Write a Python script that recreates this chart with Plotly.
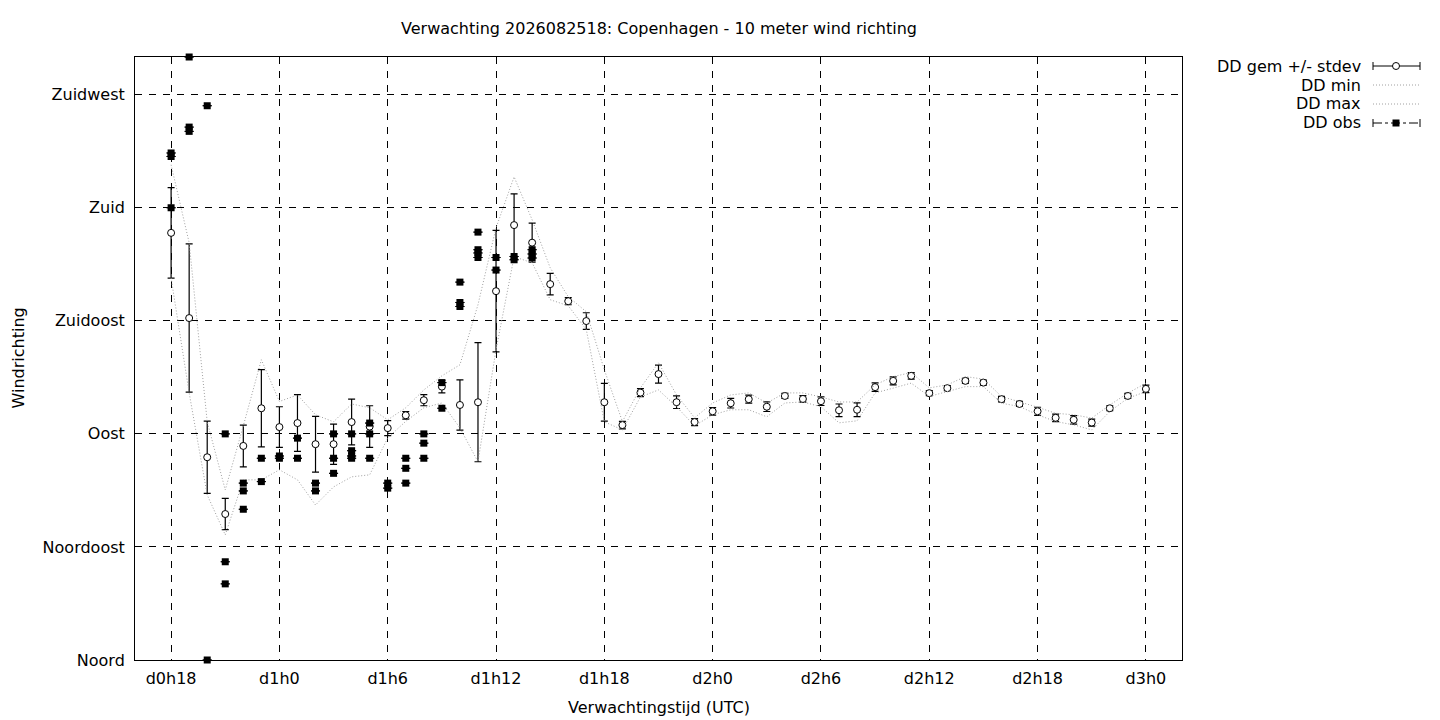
import plotly.graph_objects as go

# forecast hours (hours after d0h0)
hours = list(range(18, 73))

dd_mean = [170.0, 136.1, 80.7, 58.1, 85.2, 100.2, 92.7, 94.3, 85.9, 85.9,
           94.7, 92.9, 92.3, 97.4, 103.4, 108.8, 101.5, 102.6, 146.8, 173.1,
           166.1, 149.6, 142.8, 134.9, 102.6, 93.5, 106.4, 113.8, 102.6, 94.7,
           99.0, 102.2, 103.8, 100.8, 105.1, 103.9, 103.0, 99.4, 99.6, 108.6,
           111.1, 113.1, 106.2, 108.2, 111.1, 110.4, 103.8, 101.9, 99.0, 96.4,
           95.6, 94.5, 100.2, 105.1, 107.9]

dd_sd = [18.0, 29.5, 14.4, 6.2, 8.3, 15.4, 8.1, 11.3, 11.1, 8.0,
         9.1, 8.3, 3.0, 1.5, 2.2, 2.5, 10.0, 23.7, 24.2, 12.4,
         7.8, 4.3, 1.4, 3.3, 7.5, 1.5, 1.6, 3.6, 2.5, 1.4,
         1.5, 1.9, 1.6, 1.9, 1.0, 1.3, 1.7, 2.5, 2.7, 1.7,
         1.6, 1.3, 1.0, 1.0, 1.0, 1.0, 1.1, 1.0, 1.6, 1.5,
         1.7, 1.4, 1.0, 1.0, 1.5]

dd_min = [152.1, 106.3, 65.7, 49.8, 71.7, 71.7, 75.7, 71.7, 61.7, 68.9,
          72.9, 73.7, 88.4, 95.0, 100.4, 102.3, 92.4, 78.9, 123.5, 160.5,
          158.1, 143.4, 141.0, 131.5, 94.8, 91.6, 104.7, 107.5, 100.8, 93.2,
          97.6, 99.6, 99.6, 96.8, 102.3, 102.7, 100.8, 94.4, 95.2, 106.3,
          108.2, 110.2, 104.9, 106.9, 108.8, 108.8, 102.2, 100.9, 97.6, 94.9,
          93.6, 91.6, 98.9, 104.2, 106.8]

dd_max = [197.1, 166.1, 94.8, 67.7, 93.2, 119.5, 102.9, 105.5, 97.6, 94.8,
          101.9, 100.4, 95.6, 100.4, 107.5, 113.1, 117.5, 141.4, 172.0, 192.3,
          175.2, 156.1, 144.6, 138.6, 115.5, 94.9, 108.3, 118.3, 105.5, 96.4,
          102.3, 105.5, 106.3, 102.3, 106.3, 106.3, 104.7, 102.7, 102.7, 109.5,
          112.8, 114.4, 108.3, 109.5, 112.8, 111.8, 104.9, 102.9, 100.6, 98.2,
          97.6, 96.3, 101.5, 106.2, 110.2]

# observations
obs_hours = [18, 18, 18, 19, 19, 19, 20, 20, 21, 21, 21, 22, 22, 22, 23, 23,
             24, 24, 25, 25, 26, 26, 27, 27, 27, 28, 28, 28, 28, 29, 29, 29,
             30, 30, 31, 31, 31, 32, 32, 32, 33, 33, 34, 34, 34, 35, 35, 35, 35,
             36, 36, 37, 37, 38, 38, 38]
obs_dd = [201.8, 200.4, 180.0, 240.0, 212.1, 210.4, 220.6, 0.0, 90.0, 39.1, 30.3,
          70.4, 67.3, 60.0, 80.3, 71.0, 81.2, 80.3, 88.3, 80.3, 70.4, 67.3,
          90.0, 80.3, 74.3, 90.0, 83.3, 81.2, 80.3, 94.3, 90.0, 80.3, 70.4, 68.4,
          80.3, 76.3, 70.4, 90.0, 86.3, 80.3, 110.4, 100.2, 150.4, 142.3, 140.7,
          170.3, 163.3, 162.0, 160.2, 160.2, 155.2, 160.6, 159.3, 163.3, 161.6, 160.0]

tick_hours = [18, 24, 30, 36, 42, 48, 54, 60, 66, 72]
tick_labels = ["d0h18", "d1h0", "d1h6", "d1h12", "d1h18",
               "d2h0", "d2h6", "d2h12", "d2h18", "d3h0"]
dir_values = [0, 45, 90, 135, 180, 225]
dir_labels = ["Noord", "Noordoost", "Oost", "Zuidoost", "Zuid", "Zuidwest"]

FONT = "DejaVu Sans"
MINMAX_COLOR = "#a0a0a0"
# page offset (browser body margin) and plot area in screen pixels
OFF = 8
L, R, T, B = 135, 1182, 57, 660
FIG_W, FIG_H = 1440 - OFF, 720 - OFF


def px(x):
    return (x - L) / (R - L)


def py(y):
    return (B - y) / (B - T)


fig = go.Figure()
fig.add_trace(go.Scatter(
    x=hours, y=dd_mean, mode="markers", name="DD gem +/- stdev",
    marker=dict(symbol="circle", size=7, color="white",
                line=dict(color="black", width=1)),
    error_y=dict(type="data", array=dd_sd, color="black", thickness=1.2, width=3.5),
    showlegend=False,
))
fig.add_trace(go.Scatter(
    x=hours, y=dd_min, mode="lines", name="DD min",
    line=dict(color=MINMAX_COLOR, width=1, dash="1px,2px"), showlegend=False,
))
fig.add_trace(go.Scatter(
    x=hours, y=dd_max, mode="lines", name="DD max",
    line=dict(color=MINMAX_COLOR, width=1, dash="1px,2px"), showlegend=False,
))
fig.add_trace(go.Scatter(
    x=obs_hours, y=obs_dd, mode="markers", name="DD obs",
    marker=dict(symbol="square", size=7, color="black"),
    error_y=dict(type="data", array=[0] * len(obs_dd), color="black",
                 thickness=1, width=4.5),
    cliponaxis=False, showlegend=False,
))

axis_common = dict(
    showgrid=True, gridcolor="black", gridwidth=1, griddash="7px,7px",
    showline=True, mirror=True, linecolor="black", linewidth=1,
    zeroline=False, ticks="", tickfont=dict(family=FONT, size=16, color="black"),
)
fig.update_xaxes(range=[16, 74], tickvals=tick_hours, ticktext=tick_labels,
                 ticklabelstandoff=4, **axis_common)
fig.update_yaxes(range=[0, 240], tickvals=dir_values, ticktext=dir_labels,
                 ticklabelstandoff=6, **axis_common)

annotations = [
    dict(text="Verwachting 2026082518: Copenhagen - 10 meter wind richting",
         x=0.5, y=py(29), xanchor="center", yanchor="middle"),
    dict(text="Verwachtingstijd (UTC)", x=0.5, y=py(707),
         xanchor="center", yanchor="middle"),
    dict(text="Windrichting", x=px(18), y=0.5, textangle=-90,
         xanchor="center", yanchor="middle"),
]

# legend, drawn by hand to mimic the gnuplot key
key_rows = [("DD gem +/- stdev", 66), ("DD min", 85), ("DD max", 104), ("DD obs", 123)]
shapes = []
for label, ry in key_rows:
    annotations.append(dict(text=label, x=px(1363), y=py(ry),
                            xanchor="right", yanchor="middle"))

k0, k1, kc = 1373, 1420, 1396
line_kw = dict(type="line", xref="paper", yref="paper")
# mean: errorbar style sample
shapes.append(dict(line_kw, x0=px(k0), x1=px(k1), y0=py(66), y1=py(66),
                   line=dict(color="black", width=1)))
for kx in (k0, k1):
    shapes.append(dict(line_kw, x0=px(kx), x1=px(kx), y0=py(62), y1=py(70),
                       line=dict(color="black", width=1)))
shapes.append(dict(type="circle", xref="paper", yref="paper",
                   x0=px(kc - 3.5), x1=px(kc + 3.5), y0=py(69.5), y1=py(62.5),
                   fillcolor="white", line=dict(color="black", width=1)))
# min / max samples
for ry in (85, 104):
    shapes.append(dict(line_kw, x0=px(k0), x1=px(k1), y0=py(ry), y1=py(ry),
                       line=dict(color=MINMAX_COLOR, width=1, dash="1px,2px")))
# obs sample
shapes.append(dict(line_kw, x0=px(k0), x1=px(k1), y0=py(123), y1=py(123),
                   line=dict(color="black", width=1, dash="dashdot")))
for kx in (k0, k1):
    shapes.append(dict(line_kw, x0=px(kx), x1=px(kx), y0=py(119), y1=py(127),
                       line=dict(color="black", width=1)))
shapes.append(dict(type="rect", xref="paper", yref="paper",
                   x0=px(kc - 3.5), x1=px(kc + 3.5), y0=py(126.5), y1=py(119.5),
                   fillcolor="black", line=dict(color="black", width=0)))

for a in annotations:
    a.update(xref="paper", yref="paper", showarrow=False,
             font=dict(family=FONT, size=16, color="black"))

fig.update_layout(
    width=FIG_W, height=FIG_H,
    margin=dict(l=L - OFF, r=FIG_W - (R - OFF), t=T - OFF, b=FIG_H - (B - OFF)),
    plot_bgcolor="white", paper_bgcolor="white",
    font=dict(family=FONT, size=16, color="black"),
    annotations=annotations, shapes=shapes,
)

fig.write_html("out.html")
